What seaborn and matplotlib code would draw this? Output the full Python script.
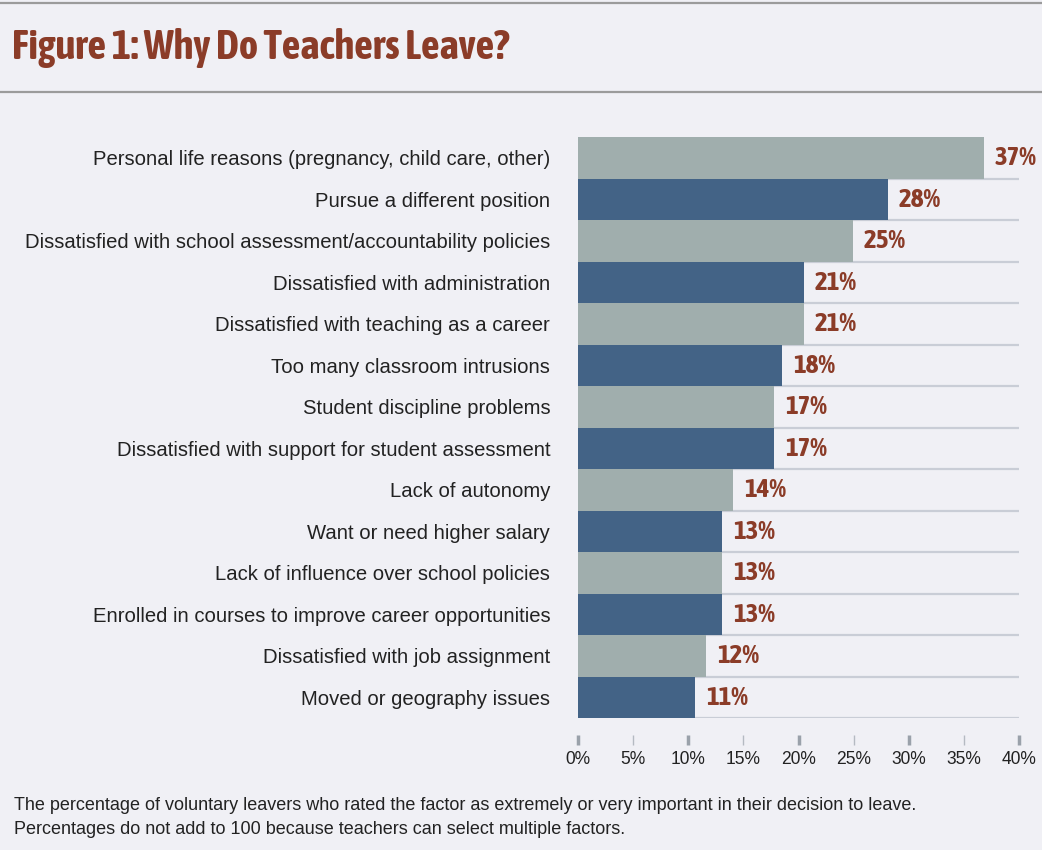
import matplotlib
matplotlib.use('Agg')
import matplotlib.pyplot as plt
from matplotlib import font_manager
from matplotlib.ticker import MultipleLocator, FuncFormatter
import seaborn as sns
import pandas as pd

# Data
reasons = [
    'Personal life reasons (pregnancy, child care, other)',
    'Pursue a different position',
    'Dissatisfied with school assessment/accountability policies',
    'Dissatisfied with administration',
    'Dissatisfied with teaching as a career',
    'Too many classroom intrusions',
    'Student discipline problems',
    'Dissatisfied with support for student assessment',
    'Lack of autonomy',
    'Want or need higher salary',
    'Lack of influence over school policies',
    'Enrolled in courses to improve career opportunities',
    'Dissatisfied with job assignment',
    'Moved or geography issues',
]
percent = [36.8, 28.1, 24.9, 20.5, 20.5, 18.5, 17.8, 17.8, 14.1, 13.1, 13.1, 13.1, 11.6, 10.6]
percent_labels = ['37%', '28%', '25%', '21%', '21%', '18%', '17%', '17%',
                  '14%', '13%', '13%', '13%', '12%', '11%']

df = pd.DataFrame({'reason': reasons, 'percent': percent})

bg = '#f0f0f5'
light_bar = '#a0aead'
dark_bar = '#436386'
brown = '#8b3c28'
ink = '#222222'

sns.set_theme(style='white')
plain = ['Liberation Sans', 'DejaVu Sans']
plt.rcParams['font.family'] = plain


def weight_num(w):
    if isinstance(w, str):
        return font_manager.weight_dict.get(w, 400)
    return w


# a condensed family (with regular and bold faces) for the title and value labels
fam = {}
for f in font_manager.fontManager.ttflist:
    if 'Narrow' in f.name or 'Condensed' in f.name:
        fam.setdefault(f.name, set()).add(weight_num(f.weight))
cond = next((n for n, ws in sorted(fam.items())
             if any(w >= 700 for w in ws) and any(350 <= w <= 500 for w in ws)), None)
if cond is None:
    cond = next((n for n, ws in sorted(fam.items()) if any(w >= 700 for w in ws)), None)
bold_family = [cond] + plain if cond else plain

fig = plt.figure(figsize=(10.42, 8.5), dpi=100, facecolor=bg)
renderer = fig.canvas.get_renderer()


def fit(txt, target_px):
    # scale a text object's size so its width matches the reference
    for _ in range(3):
        w = txt.get_window_extent(renderer).width
        txt.set_fontsize(txt.get_fontsize() * target_px / w)
    return txt.get_fontsize()


def fit_size(s, target_px, **kw):
    probe = fig.text(0, 0, s, fontsize=14, **kw)
    size = fit(probe, target_px)
    probe.remove()
    return size


ax = fig.add_axes([578 / 1042, 1 - 718 / 850, 441 / 1042, 581 / 850])
ax.set_facecolor(bg)

colors = [light_bar if i % 2 == 0 else dark_bar for i in range(len(reasons))]
sns.barplot(data=df, x='percent', y='reason', hue='reason', palette=colors,
            legend=False, width=1.0, saturation=1, ax=ax, linewidth=0)

# row separators
for i in range(len(reasons)):
    ax.axhline(i + 0.5, color='#c9cdd6', lw=1.6, zorder=0.5)

pct_size = fit_size('37%', 42, fontweight='bold', family=bold_family)
for i, (v, lab) in enumerate(zip(percent, percent_labels)):
    ax.text(v + 1.0, i, lab, va='center', ha='left', fontsize=pct_size,
            fontweight='bold', color=brown, family=bold_family)

ax.set_xlim(0, 40)
ax.set_ylim(len(reasons) - 0.5, -0.5)
ax.set_xlabel('')
ax.set_ylabel('')
for s in ax.spines.values():
    s.set_visible(False)

lab_size = fit_size(reasons[2], 528)
ax.tick_params(axis='y', length=0, pad=20, labelsize=lab_size, labelcolor=ink)

tick_size = fit_size('40%', 35)
ax.xaxis.set_major_locator(MultipleLocator(10))
ax.xaxis.set_minor_locator(MultipleLocator(5))
fmt = FuncFormatter(lambda x, p: f'{int(round(x))}%')
ax.xaxis.set_major_formatter(fmt)
ax.xaxis.set_minor_formatter(fmt)
ax.spines['bottom'].set_position(('outward', 19.5))
ax.tick_params(axis='x', which='major', direction='in', length=7, width=2.5,
               color='#9aa1aa', pad=4, labelsize=tick_size, labelcolor=ink, bottom=True)
ax.tick_params(axis='x', which='minor', direction='in', length=7, width=1,
               color='#b5bac2', pad=4, labelsize=tick_size, labelcolor=ink, bottom=True)

# title band
title = fig.text(12 / 1042, 1 - 48 / 850, 'Figure 1: Why Do Teachers Leave?', fontsize=24,
                 fontweight='bold', color=brown, va='center', ha='left', family=bold_family)
fit(title, 498)
fig.add_artist(plt.Line2D([0, 1], [1 - 3 / 850, 1 - 3 / 850], color='#9b9b9b', lw=1.6))
fig.add_artist(plt.Line2D([0, 1], [1 - 92 / 850, 1 - 92 / 850], color='#9b9b9b', lw=1.6))

note1 = fig.text(14 / 1042, 1 - 806 / 850,
                 'The percentage of voluntary leavers who rated the factor as extremely or very important in their decision to leave.',
                 fontsize=12.9, color=ink, va='center', ha='left')
note_size = fit(note1, 901)
fig.text(14 / 1042, 1 - 830 / 850,
         'Percentages do not add to 100 because teachers can select multiple factors.',
         fontsize=note_size, color=ink, va='center', ha='left')

fig.savefig('out.png', dpi=100, facecolor=bg)
